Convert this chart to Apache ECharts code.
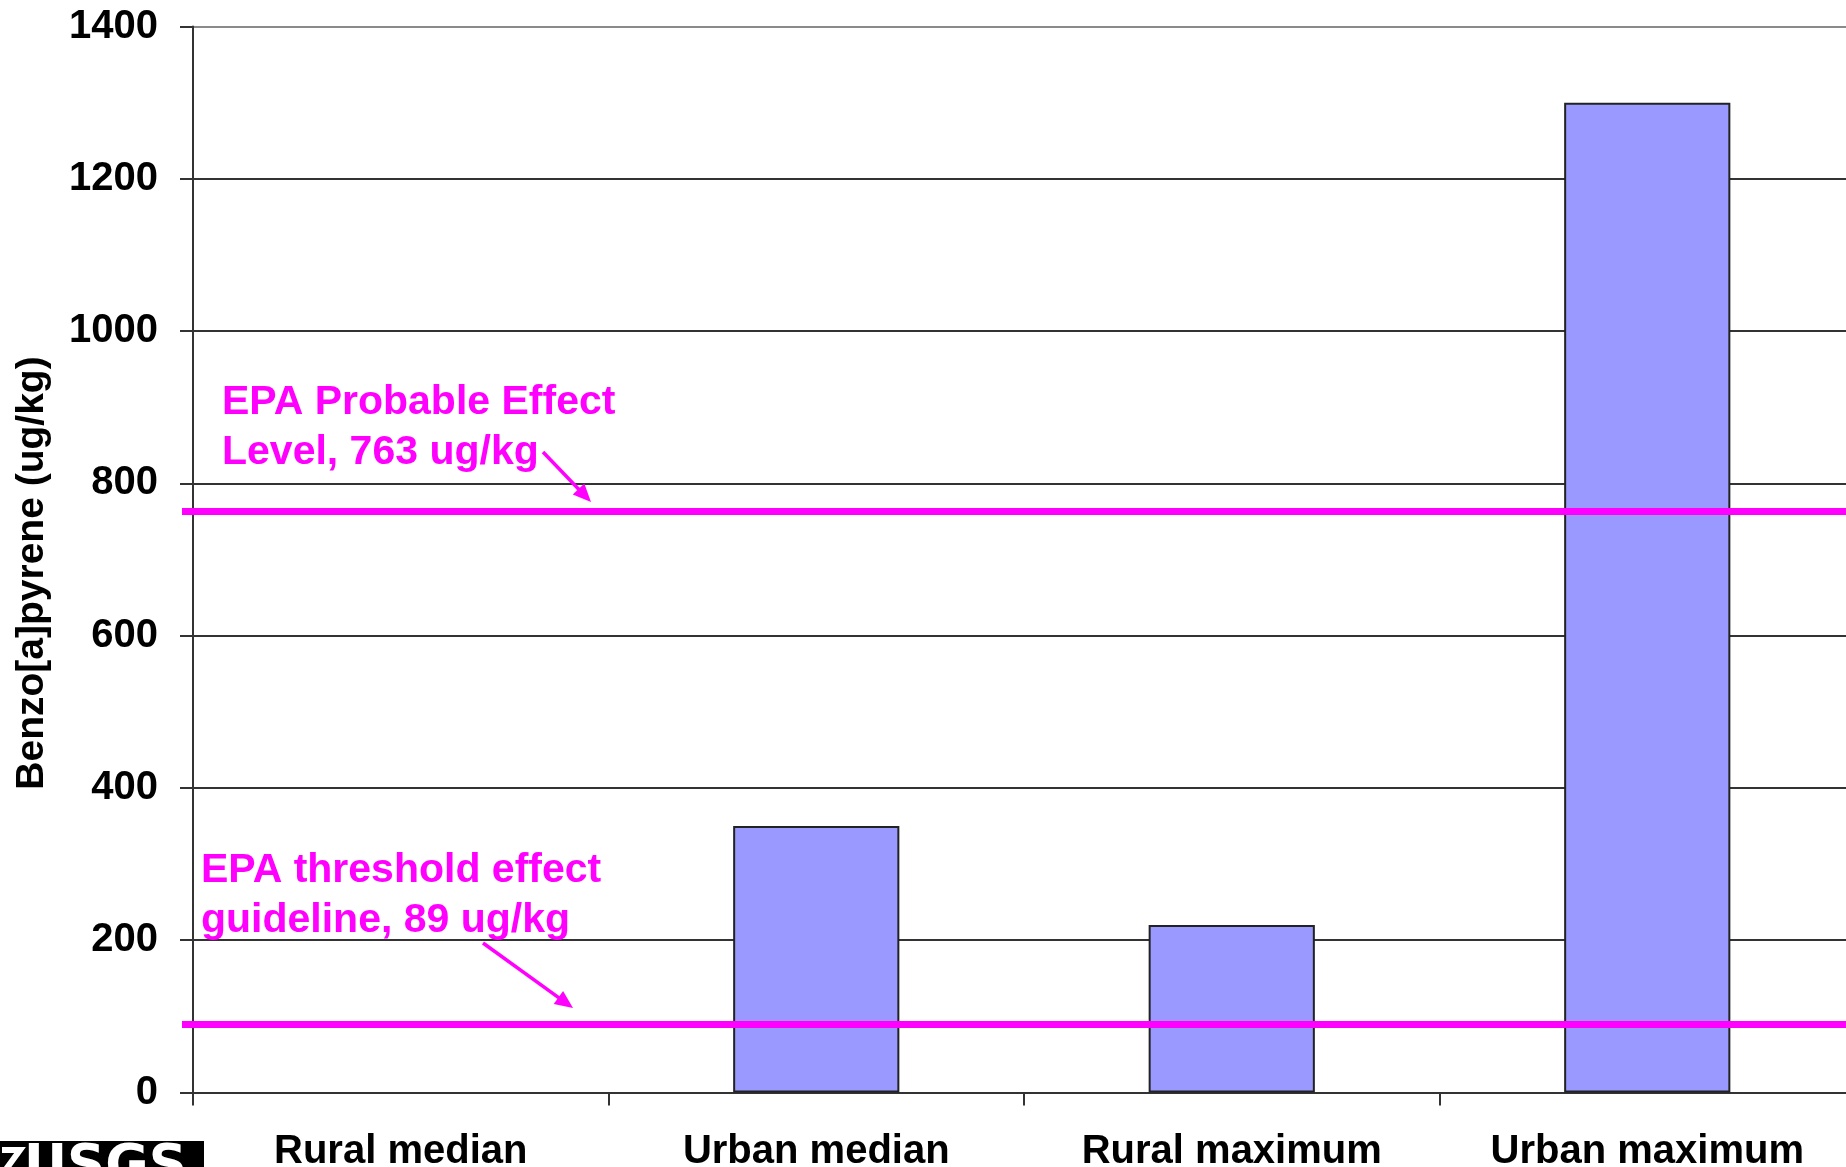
<!DOCTYPE html>
<html>
<head>
<meta charset="utf-8">
<title>Benzo[a]pyrene in lake sediments</title>
<script src="https://cdn.jsdelivr.net/npm/echarts@6/dist/echarts.min.js"></script>
<style>
  html, body { margin: 0; padding: 0; background: #fff; }
  #chart { width: 1846px; height: 1167px; }
</style>
</head>
<body>
<div id="chart"></div>
<script>
// Categories and concentrations (ug/kg)
const categories = ['Rural median', 'Urban median', 'Rural maximum', 'Urban maximum'];
const benzoApyrene = [0, 350, 220, 1300];

// Sediment quality guidelines (ug/kg)
const probableEffectLevel = 763;
const thresholdEffectLevel = 89;

// Axis range
const yMin = 0;
const yMax = 1400;
const yStep = 200;

const FONT = "'Liberation Sans', Arial, Helvetica, sans-serif";
const MAGENTA = '#FF00FF';
const AXIS = '#333333';

const chart = echarts.init(document.getElementById('chart'), null, { renderer: 'canvas' });

// Arrow (shaft + triangular head) from (x1,y1) to tip (x2,y2)
function arrow(x1, y1, x2, y2, headLen, headHalf, width) {
  const dx = x2 - x1, dy = y2 - y1;
  const len = Math.sqrt(dx * dx + dy * dy);
  const ux = dx / len, uy = dy / len;
  const bx = x2 - ux * headLen, by = y2 - uy * headLen;
  const nx = -uy, ny = ux;
  return [
    {
      type: 'line', silent: true, z: 20,
      shape: { x1: x1, y1: y1, x2: bx + ux * 2, y2: by + uy * 2 },
      style: { stroke: MAGENTA, lineWidth: width }
    },
    {
      type: 'polygon', silent: true, z: 20,
      shape: { points: [[x2, y2], [bx + nx * headHalf, by + ny * headHalf], [bx - nx * headHalf, by - ny * headHalf]] },
      style: { fill: MAGENTA }
    }
  ];
}

const guideLine = (v) => [
  { xAxis: 0, yAxis: v, x: 182 },
  { xAxis: 0, yAxis: v, x: 1846 }
];

// Empty bars get no outline so nothing shows on the baseline
const barData = benzoApyrene.map((v) => (v === 0 ? { value: v, itemStyle: { borderWidth: 0 } } : v));

chart.setOption({
  animation: false,
  backgroundColor: '#ffffff',
  grid: {
    left: 193, top: 26.5, width: 1662, height: 1066,
    containLabel: false, outerBoundsMode: 'none'
  },
  xAxis: {
    type: 'category',
    data: categories,
    boundaryGap: true,
    axisLine: { show: true, lineStyle: { color: AXIS, width: 2 } },
    axisTick: { show: true, length: 13, alignWithLabel: false, lineStyle: { color: AXIS, width: 2 } },
    axisLabel: {
      margin: 39, color: '#000', fontFamily: FONT, fontWeight: 'bold', fontSize: 40,
      interval: 0, hideOverlap: false
    },
    splitLine: { show: false }
  },
  yAxis: {
    type: 'value',
    min: yMin, max: yMax, interval: yStep,
    name: 'Benzo[a]pyrene (ug/kg)',
    nameLocation: 'middle',
    nameRotate: 90,
    nameGap: 141,
    nameTextStyle: {
      color: '#000', fontFamily: FONT, fontWeight: 'bold', fontSize: 39,
      padding: [0, 27, 0, 0]
    },
    axisLine: { show: true, lineStyle: { color: AXIS, width: 2 } },
    axisTick: { show: true, length: 13, lineStyle: { color: AXIS, width: 2 } },
    axisLabel: {
      margin: 35, color: '#000', fontFamily: FONT, fontWeight: 'bold', fontSize: 40,
      formatter: (v) => String(v)
    },
    splitLine: {
      show: true,
      lineStyle: { color: [AXIS, AXIS, AXIS, AXIS, AXIS, AXIS, AXIS, '#8a8a8a'], width: 2 }
    }
  },
  series: [
    {
      type: 'bar',
      data: barData,
      barCategoryGap: '60%',
      clip: false,
      itemStyle: { color: '#9999FF', borderColor: '#222', borderWidth: 2 },
      emphasis: { disabled: true },
      markLine: {
        silent: true,
        symbol: ['none', 'none'],
        label: { show: false },
        lineStyle: { color: MAGENTA, width: 7, type: 'solid' },
        emphasis: { disabled: true },
        data: [guideLine(probableEffectLevel), guideLine(thresholdEffectLevel)]
      },
      z: 2
    }
  ],
  graphic: [
    // Guideline annotations
    {
      type: 'text', silent: true, z: 20,
      style: {
        text: 'EPA Probable Effect\nLevel, ' + probableEffectLevel + ' ug/kg',
        x: 222, y: 378, fill: MAGENTA,
        font: 'bold 41px ' + FONT, lineHeight: 50, verticalAlign: 'top', align: 'left'
      }
    },
    {
      type: 'text', silent: true, z: 20,
      style: {
        text: 'EPA threshold effect\nguideline, ' + thresholdEffectLevel + ' ug/kg',
        x: 201, y: 846, fill: MAGENTA,
        font: 'bold 41px ' + FONT, lineHeight: 50, verticalAlign: 'top', align: 'left'
      }
    },
    ...arrow(543, 452, 591, 502, 18, 8, 3.5),
    ...arrow(483, 943, 573, 1008, 18, 8, 3.5),
    // USGS identifier block, bottom left
    {
      type: 'group', silent: true, z: 30,
      children: [
        { type: 'rect', shape: { x: 0, y: 1141, width: 204, height: 30 }, style: { fill: '#000' } },
        {
          type: 'polyline',
          shape: { points: [[2, 1150], [20, 1150], [4, 1172]] },
          style: { stroke: '#fff', lineWidth: 6, fill: null }
        },
        {
          type: 'text',
          style: {
            text: 'USGS', x: 24, y: 1168, fill: '#fff',
            font: 'bold 53px "DejaVu Sans", ' + FONT, verticalAlign: 'middle', align: 'left'
          }
        }
      ]
    }
  ]
});
</script>
</body>
</html>
